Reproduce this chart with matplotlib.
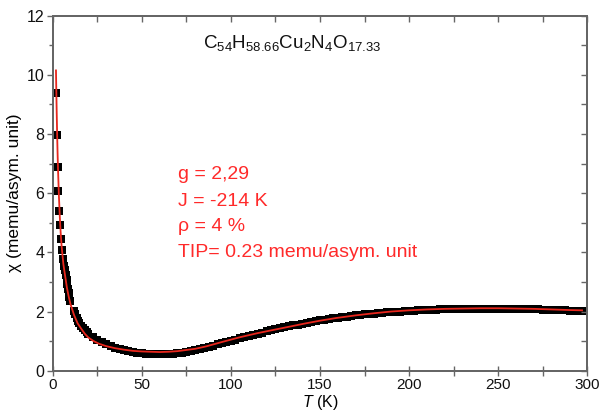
import matplotlib
matplotlib.use("Agg")
import matplotlib.pyplot as plt
from matplotlib.ticker import MultipleLocator

plt.rcParams['font.family'] = ['Liberation Sans', 'DejaVu Sans']
plt.rcParams['mathtext.fontset'] = 'custom'
plt.rcParams['mathtext.rm'] = 'Liberation Sans'
plt.rcParams['mathtext.it'] = 'Liberation Sans:italic'
plt.rcParams['mathtext.bf'] = 'Liberation Sans:bold'

# ---- data ----
data_T = [1.85, 2.4, 2.8, 3.2, 3.7, 4.3, 4.8, 5.3, 6.0, 6.5, 7.0, 7.4, 7.8, 8.2,
          8.6, 9.0, 9.4, 9.8, 11.9, 12.6, 13.4, 14.2, 15.0, 16.0, 17.0, 18.0, 19.0,
          20, 22.5, 25, 27.5, 30, 32.5, 35, 37.5, 40, 42.5, 45, 47.5, 50, 52.5, 55,
          57.5, 60, 62.5, 65, 67.5, 70, 72.5, 75, 77.5, 80, 82.5, 85, 87.5, 90,
          92.5, 95, 97.5, 100, 102.5, 105, 107.5, 110, 112.5, 115, 117.5, 120,
          122.5, 125, 127.5, 130, 132.5, 135, 137.5, 140, 142.5, 145, 147.5, 150,
          152.5, 155, 157.5, 160, 162.5, 165, 167.5, 170, 172.5, 175, 177.5, 180,
          182.5, 185, 187.5, 190, 192.5, 195, 197.5, 200, 202.5, 205, 207.5, 210,
          212.5, 215, 217.5, 220, 222.5, 225, 227.5, 230, 232.5, 235, 237.5, 240,
          242.5, 245, 247.5, 250, 252.5, 255, 257.5, 260, 262.5, 265, 267.5, 270,
          272.5, 275, 277.5, 280, 282.5, 285, 287.5, 290, 292.5, 295, 297.5, 300]
data_chi = [9.39, 7.96, 6.90, 6.06, 5.41, 4.91, 4.46, 4.08, 3.79, 3.55, 3.40, 3.25,
            3.08, 2.92, 2.76, 2.62, 2.48, 2.35, 2.02, 1.90, 1.79, 1.69, 1.60, 1.52,
            1.44, 1.37, 1.31,
            1.24, 1.13, 1.04, 0.96, 0.89, 0.83, 0.78, 0.73, 0.69, 0.66, 0.63, 0.61,
            0.59, 0.57, 0.56, 0.55, 0.55, 0.55, 0.56, 0.57, 0.59, 0.61, 0.64, 0.67,
            0.70, 0.73, 0.77, 0.81, 0.85, 0.89, 0.93, 0.97, 1.01, 1.05, 1.09, 1.13,
            1.17, 1.21, 1.25, 1.29, 1.33, 1.36, 1.40, 1.43, 1.47, 1.50, 1.53, 1.56,
            1.59, 1.62, 1.65, 1.68, 1.70, 1.73, 1.75, 1.77, 1.79, 1.81, 1.83, 1.85,
            1.87, 1.89, 1.90, 1.92, 1.93, 1.95, 1.96, 1.97, 1.98, 1.99, 2.00, 2.01,
            2.02, 2.03, 2.04, 2.04, 2.05, 2.06, 2.06, 2.07, 2.07, 2.08, 2.08, 2.08,
            2.09, 2.09, 2.09, 2.09, 2.09, 2.09, 2.09, 2.09, 2.09, 2.09, 2.09, 2.09,
            2.08, 2.08, 2.08, 2.07, 2.07, 2.07, 2.06, 2.06, 2.05, 2.05, 2.04, 2.04,
            2.03, 2.03, 2.02, 2.02, 2.01]

fit_T = [1.85, 2, 2.25, 2.5, 2.75, 3, 3.5, 4, 4.5, 5, 6, 7, 8, 9, 10, 12, 14, 16,
         18, 20, 23, 26, 30, 35, 40, 45, 50, 55, 60, 65, 70, 75, 80, 86, 95, 105,
         115, 124, 133, 142, 150, 159, 170, 180, 190, 200, 210, 220, 230, 240, 250,
         260, 270, 280, 290, 297]
fit_chi = [10.15, 9.6, 8.75, 8.0, 7.35, 6.8, 5.9, 5.2, 4.65, 4.22, 3.6, 3.2, 2.8,
           2.5, 2.25, 1.88, 1.6, 1.42, 1.25, 1.12, 1.0, 0.91, 0.83, 0.76, 0.71,
           0.67, 0.65, 0.64, 0.63, 0.64, 0.66, 0.70, 0.74, 0.82, 0.97, 1.13, 1.27,
           1.38, 1.49, 1.60, 1.69, 1.78, 1.87, 1.94, 2.00, 2.04, 2.07, 2.09, 2.10,
           2.11, 2.11, 2.10, 2.09, 2.07, 2.05, 2.04]

formula = r"C$_{54}$H$_{58.66}$Cu$_{2}$N$_{4}$O$_{17.33}$"
fit_lines = ["g = 2,29", "J = -214 K", "\u03c1 = 4 %", "TIP= 0.23 memu/asym. unit"]
x_label = r"$T$ (K)"
y_label = "\u03c7 (memu/asym. unit)"

# ---- figure ----
fig = plt.figure(figsize=(6.0, 4.11), dpi=100)
ax = fig.add_axes([0.0878, 0.0981, 0.8912, 0.8637])

ax.plot(data_T, data_chi, linestyle='none', marker='s', markersize=5.3,
        color='black', markeredgewidth=0, zorder=2)
ax.plot(fit_T, fit_chi, color='#e8261c', linewidth=1.3, zorder=3)

ax.set_xlim(0, 300)
ax.set_ylim(0, 12)
ax.xaxis.set_major_locator(MultipleLocator(50))
ax.xaxis.set_minor_locator(MultipleLocator(25))
ax.yaxis.set_major_locator(MultipleLocator(2))
ax.yaxis.set_minor_locator(MultipleLocator(1))

spine_col = '#666666'
for s in ax.spines.values():
    s.set_color(spine_col)
    s.set_linewidth(1.2)

ax.tick_params(axis='x', which='both', direction='inout', top=False,
               color=spine_col, labelsize=11, pad=1.5, labelcolor='#111111')
ax.tick_params(axis='x', which='major', length=7, width=1.0)
ax.tick_params(axis='x', which='minor', length=7, width=1.0)
ax.tick_params(axis='y', which='both', direction='out', right=False,
               color=spine_col, labelsize=11.5, pad=2, labelcolor='#111111')
ax.tick_params(axis='y', which='major', length=4, width=1.0)
ax.tick_params(axis='y', which='minor', length=3, width=1.0)

# inward ticks on top and right
axt = ax.twiny()
axt.set_xlim(ax.get_xlim())
axt.xaxis.set_major_locator(MultipleLocator(25))
axt.tick_params(axis='x', direction='in', length=4, width=1.0, color=spine_col,
                labeltop=False)
axr = ax.twinx()
axr.set_ylim(ax.get_ylim())
axr.yaxis.set_major_locator(MultipleLocator(1))
axr.tick_params(axis='y', direction='in', length=4, width=1.0, color=spine_col,
                labelright=False)
for a in (axt, axr):
    for s in a.spines.values():
        s.set_color(spine_col)
        s.set_linewidth(1.2)

ax.set_xlabel(x_label, fontsize=11.5)
ax.xaxis.set_label_coords(0.5, -0.0625)
ax.set_ylabel(y_label, fontsize=12.5, labelpad=3)

ax.text(0.2806, 0.9082, formula, transform=ax.transAxes, fontsize=13.5,
        ha='left', va='baseline', color='#111111')

ys = [0.5392, 0.4648, 0.3944, 0.3211]
for line, yv in zip(fit_lines, ys):
    ax.text(0.2344, yv, line, transform=ax.transAxes, fontsize=14,
            ha='left', va='baseline', color='#ff2a2a')

fig.savefig("out.png", dpi=100)
